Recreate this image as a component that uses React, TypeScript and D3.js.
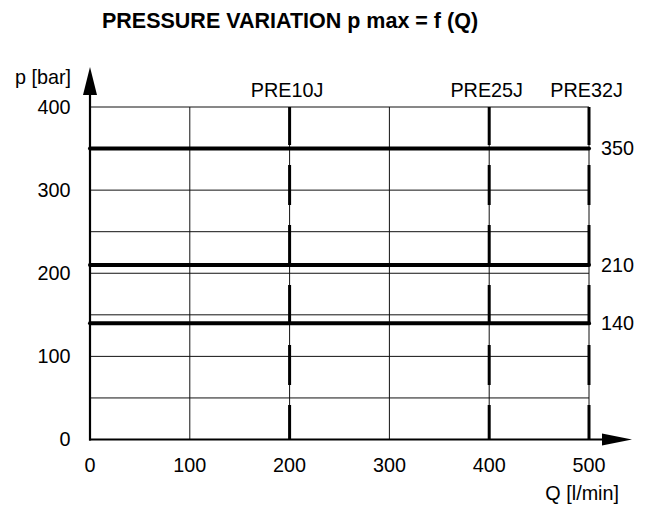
import React, { useEffect, useRef } from 'react';
import * as d3 from 'd3';

// flow axis / pressure axis
const flowTicks = [0, 100, 200, 300, 400, 500];
const pressureTicks = [0, 100, 200, 300, 400];
const pressureGrid = [50, 100, 150, 200, 250, 300, 350, 400];

// valve models and their max flow
const models = ['PRE10J', 'PRE25J', 'PRE32J'];
const maxFlow = [200, 400, 500];

// max pressure settings
const pressureLevels = [140, 210, 350];

const W = 645;
const H = 506;
const FONT = "'Liberation Sans', Arial, sans-serif";
const FS = 19.8;

const App: React.FC = () => {
  const svgRef = useRef<SVGSVGElement>(null);

  useEffect(() => {
    if (!svgRef.current) return;
    const svg = d3.select(svgRef.current);
    svg.selectAll('*').remove();

    const x = d3.scaleLinear().domain([0, 500]).range([90, 589]);
    const y = d3.scaleLinear().domain([0, 400]).range([439.5, 107]);

    svg.append('rect').attr('width', W).attr('height', H).attr('fill', '#fff');

    // title
    svg.append('text')
      .attr('x', 290)
      .attr('y', 28)
      .attr('text-anchor', 'middle')
      .attr('font-family', FONT)
      .attr('font-weight', 'bold')
      .attr('font-size', 21.5)
      .text('PRESSURE VARIATION p max = f (Q)');

    const grid = svg.append('g');

    // horizontal grid
    grid.selectAll('line.h')
      .data(pressureGrid)
      .join('line')
      .attr('class', 'h')
      .attr('x1', x(0))
      .attr('x2', x(500))
      .attr('y1', d => y(d))
      .attr('y2', d => y(d))
      .attr('stroke', '#111')
      .attr('stroke-width', 1);

    // vertical grid (thin)
    grid.selectAll('line.v')
      .data(flowTicks.filter(d => d > 0))
      .join('line')
      .attr('class', 'v')
      .attr('x1', d => x(d))
      .attr('x2', d => x(d))
      .attr('y1', y(400))
      .attr('y2', y(0))
      .attr('stroke', '#111')
      .attr('stroke-width', 1);

    // max flow limits - thick dashes over thin line
    grid.selectAll('line.flow')
      .data(maxFlow)
      .join('line')
      .attr('class', 'flow')
      .attr('x1', d => x(d))
      .attr('x2', d => x(d))
      .attr('y1', y(400))
      .attr('y2', y(0))
      .attr('stroke', '#000')
      .attr('stroke-width', 3)
      .attr('stroke-dasharray', '40 20')
      .attr('stroke-dashoffset', 2);

    // pressure levels
    grid.selectAll('line.p')
      .data(pressureLevels)
      .join('line')
      .attr('class', 'p')
      .attr('x1', x(0))
      .attr('x2', x(500))
      .attr('y1', d => y(d))
      .attr('y2', d => y(d))
      .attr('stroke', '#000')
      .attr('stroke-width', 4)
      .attr('stroke-linecap', 'round');

    svg.selectAll('text.plabel')
      .data(pressureLevels)
      .join('text')
      .attr('class', 'plabel')
      .attr('x', 601)
      .attr('y', d => y(d))
      .attr('dy', '0.35em')
      .attr('font-family', FONT)
      .attr('font-size', FS)
      .text(d => d);

    svg.selectAll('text.model')
      .data(models)
      .join('text')
      .attr('class', 'model')
      .attr('x', (d, i) => x(maxFlow[i]) - 2.5)
      .attr('y', 97)
      .attr('text-anchor', 'middle')
      .attr('font-family', FONT)
      .attr('font-size', FS)
      .text(d => d);

    // axes with arrows
    const axes = svg.append('g');
    axes.append('line')
      .attr('x1', x(0)).attr('x2', x(0))
      .attr('y1', y(0) + 1).attr('y2', 92)
      .attr('stroke', '#000').attr('stroke-width', 2.2);
    axes.append('path')
      .attr('d', `M${x(0)},67 L${x(0) + 7},95 L${x(0) - 7},95 Z`)
      .attr('fill', '#000');
    axes.append('line')
      .attr('x1', x(0) - 1).attr('x2', 605)
      .attr('y1', y(0)).attr('y2', y(0))
      .attr('stroke', '#000').attr('stroke-width', 2.2);
    axes.append('path')
      .attr('d', `M632,${y(0)} L602,${y(0) - 6} L602,${y(0) + 6} Z`)
      .attr('fill', '#000');

    // tick labels
    svg.selectAll('text.yt')
      .data(pressureTicks)
      .join('text')
      .attr('class', 'yt')
      .attr('x', 70.5)
      .attr('y', d => y(d))
      .attr('dy', '0.35em')
      .attr('text-anchor', 'end')
      .attr('font-family', FONT)
      .attr('font-size', FS)
      .text(d => d);

    svg.selectAll('text.xt')
      .data(flowTicks)
      .join('text')
      .attr('class', 'xt')
      .attr('x', d => x(d))
      .attr('y', 472)
      .attr('text-anchor', 'middle')
      .attr('font-family', FONT)
      .attr('font-size', FS)
      .text(d => d);

    svg.append('text')
      .attr('x', 71).attr('y', 84)
      .attr('text-anchor', 'end')
      .attr('font-family', FONT).attr('font-size', FS)
      .text('p [bar]');

    svg.append('text')
      .attr('x', 619).attr('y', 500)
      .attr('text-anchor', 'end')
      .attr('font-family', FONT).attr('font-size', FS)
      .text('Q [l/min]');
  }, []);

  return (
    <div style={{ position: 'absolute', left: 0, top: 0, width: W, height: H }}>
      <svg ref={svgRef} width={W} height={H} style={{ display: 'block' }}></svg>
    </div>
  );
};

export default App;
